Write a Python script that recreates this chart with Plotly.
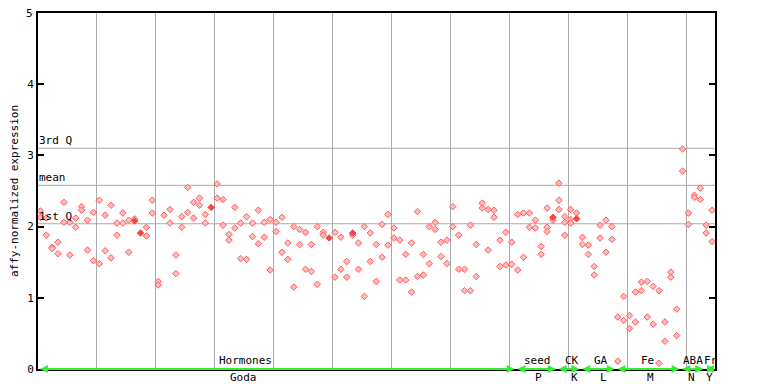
import plotly.graph_objects as go

# ---- data ----
rep_a = [2.22, 2.12, 1.71, 1.78, 2.34, 2.06, 2.12, 2.28, 2.09, 2.20,
         2.37, 2.16, 2.30, 2.05, 2.19, 2.09, 2.11, None, 1.99, 2.37,
         1.23, 2.16, 2.24, 1.60, 2.14, 2.55, 2.34, 2.40, 2.17, None,
         2.60, 2.38, 1.89, 2.27, 2.05, 2.14, 2.05, 2.23, 2.06, 2.10,
         2.06, 2.13, 1.77, 2.00, 1.96, 1.92, 1.75, 2.00, 1.92, None,
         1.92, 1.85, 1.51, 1.88, 1.77, 2.00, 1.91, 1.75, 2.03, 2.17,
         1.98, 1.81, 1.61, 1.77, 2.21, 1.61, 2.00, 2.06, 1.78, 1.81,
         2.28, 1.88, 1.40, 2.02, 1.75, 2.33, 2.24, 2.23, 1.81, 1.92,
         1.78, 2.17, 2.19, 2.19, 2.09, 1.72, 2.26, 2.09, 2.61, 2.14,
         2.24, 2.19, 1.85, 1.74, 1.44, 2.02, 2.09, 2.00, 0.73, 1.02,
         0.75, 1.08, 1.22, 1.23, 1.16, 1.10, 0.66, 1.36, 0.84, 3.09,
         2.19, 2.44, 2.54, 2.02, 2.23]
rep_b = [2.13, 1.88, 1.69, 1.62, 2.06, 1.60, 1.99, 2.23, 1.67, 1.52,
         1.48, 1.66, 1.56, 1.88, 2.05, 1.64, None, None, 1.87, 2.19,
         1.18, None, 2.05, 1.34, 1.99, 2.20, 2.12, 2.30, 2.05, None,
         2.40, 2.02, 1.81, 1.98, 1.55, 1.54, 1.86, 1.76, 1.85, 1.39,
         1.93, 1.64, 1.54, 1.15, 1.75, 1.40, 1.37, 1.19, 1.88, None,
         1.29, 1.40, 1.29, None, 1.40, 1.02, 1.51, 1.23, 1.57, 1.74,
         1.84, 1.25, 1.25, 1.08, 1.30, 1.32, 1.48, 1.96, 1.58, 1.48,
         2.00, 1.40, 1.10, 1.10, 1.30, 2.26, 1.67, 2.13, 1.44, 1.46,
         1.47, 1.39, 1.57, 1.99, 1.98, 1.61, 1.99, None, 2.37, 2.06,
         2.10, None, 1.75, 1.61, 1.32, 1.84, 1.64, 1.82, 0.11, 0.68,
         0.57, 0.66, 1.10, 0.73, 0.63, 0.08, 0.39, 1.29, 0.47, 2.78,
         2.03, 2.41, 2.38, 1.91, 1.79]
extra_sample = [86, 88, 89, 90]
extra_value = [1.93, 2.24, 1.88, 2.05]
solid_sample = [16, 17, 29, 49, 53, 87, 91]
solid_value = [2.08, 1.91, 2.27, 1.84, 1.91, 2.13, 2.11]

stat_names = ["3rd Q", "mean", "1st Q"]
stat_values = [3.10, 2.58, 2.04]

group_names = ["Hormones", "seed", "CK", "GA", "Fe", "ABA", "Fr"]
group_codes = ["Goda", "P", "K", "L", "M", "N", "Y"]
group_start = [0, 81, 88, 92, 98, 109, 113]
group_end = [80, 87, 91, 97, 108, 112, 114]
group_label_pos = [35.2, 84.7, 90.6, 95.6, 103.5, 111.1, 114.3]
code_label_pos = [34.8, 85.0, 91.0, 95.9, 103.9, 110.9, 114.0]

y_ticks = [0, 1, 2, 3, 4, 5]

# ---- figure ----
OFF = 0.4
n = len(rep_a)
xs = [i + OFF for i in range(n)]
FONT = "DejaVu Sans Mono"

fig = go.Figure()
open_marker = dict(symbol="diamond", size=5, color="#ffbcbc",
                   line=dict(color="#ff5a5a", width=1))
fig.add_trace(go.Scatter(x=xs, y=rep_a, mode="markers", marker=open_marker,
                         hoverinfo="y", showlegend=False))
fig.add_trace(go.Scatter(x=xs, y=rep_b, mode="markers", marker=open_marker,
                         hoverinfo="y", showlegend=False))
fig.add_trace(go.Scatter(x=[s + OFF for s in extra_sample], y=extra_value,
                         mode="markers", marker=open_marker,
                         hoverinfo="y", showlegend=False))
fig.add_trace(go.Scatter(x=[s + OFF for s in solid_sample], y=solid_value,
                         mode="markers",
                         marker=dict(symbol="diamond", size=5, color="#ff4040",
                                     line=dict(color="#ff4040", width=1)),
                         hoverinfo="y", showlegend=False))

# statistic lines
for name, v in zip(stat_names, stat_values):
    fig.add_shape(type="line", xref="paper", x0=0, x1=1, yref="y", y0=v, y1=v,
                  line=dict(color="#aaaaaa", width=1), layer="below")
    fig.add_annotation(x=0, xref="paper", y=v, yref="y", text=name,
                       showarrow=False, xanchor="left", yanchor="bottom",
                       xshift=-1, yshift=-1,
                       font=dict(family=FONT, size=11, color="black"))

# group brackets (green arrows along the baseline)
for gs, ge in zip(group_start, group_end):
    x0 = max(gs + OFF - 0.3, 0.05)
    x1 = ge + OFF + 0.5
    fig.add_annotation(x=x1, y=0, ax=x0, ay=0, xref="x", yref="y",
                       axref="x", ayref="y", text="", showarrow=True,
                       arrowhead=2, startarrowhead=2, arrowside="end+start",
                       arrowsize=0.8, arrowwidth=2, arrowcolor="#33ee33")
for name, xp in zip(group_names, group_label_pos):
    fig.add_annotation(x=xp, y=0, xref="x", yref="y", text=name,
                       showarrow=False, yanchor="bottom", yshift=0,
                       font=dict(family=FONT, size=11, color="black"))
for code, xp in zip(group_codes, code_label_pos):
    fig.add_annotation(x=xp, y=0, xref="x", yref="y", text=code,
                       showarrow=False, yanchor="top", yshift=0,
                       font=dict(family=FONT, size=11, color="black"))

# top tick label (plotly hides it at the figure's upper edge)
fig.add_annotation(x=0, xref="paper", y=y_ticks[-1], yref="y",
                   text=str(y_ticks[-1]), showarrow=False, xanchor="right",
                   yanchor="middle", xshift=-3,
                   font=dict(family=FONT, size=11, color="black"))

fig.update_xaxes(range=[0, n - 0.1], showgrid=True, gridcolor="#aaaaaa",
                 gridwidth=1, tick0=0, dtick=10, showticklabels=False,
                 ticks="", zeroline=False, showline=True, linecolor="black",
                 linewidth=2, mirror=True)
fig.update_yaxes(range=[0, y_ticks[-1]], tickvals=y_ticks[:-1], showgrid=False,
                 zeroline=False,
                 ticks="inside", ticklen=6, tickcolor="black", tickwidth=2,
                 showline=True, linecolor="black", linewidth=2, mirror="ticks",
                 tickfont=dict(family=FONT, size=11, color="black"),
                 title=dict(text="affy-normalized expression", standoff=8,
                            font=dict(family=FONT, size=11, color="black")))

# the page body adds an 8 px offset, so the figure is sized to fit the window
fig.update_layout(width=760, height=376, plot_bgcolor="white",
                  paper_bgcolor="white",
                  margin=dict(l=30, r=53, t=5, b=15, autoexpand=False),
                  showlegend=False)

fig.write_html("out.html")
